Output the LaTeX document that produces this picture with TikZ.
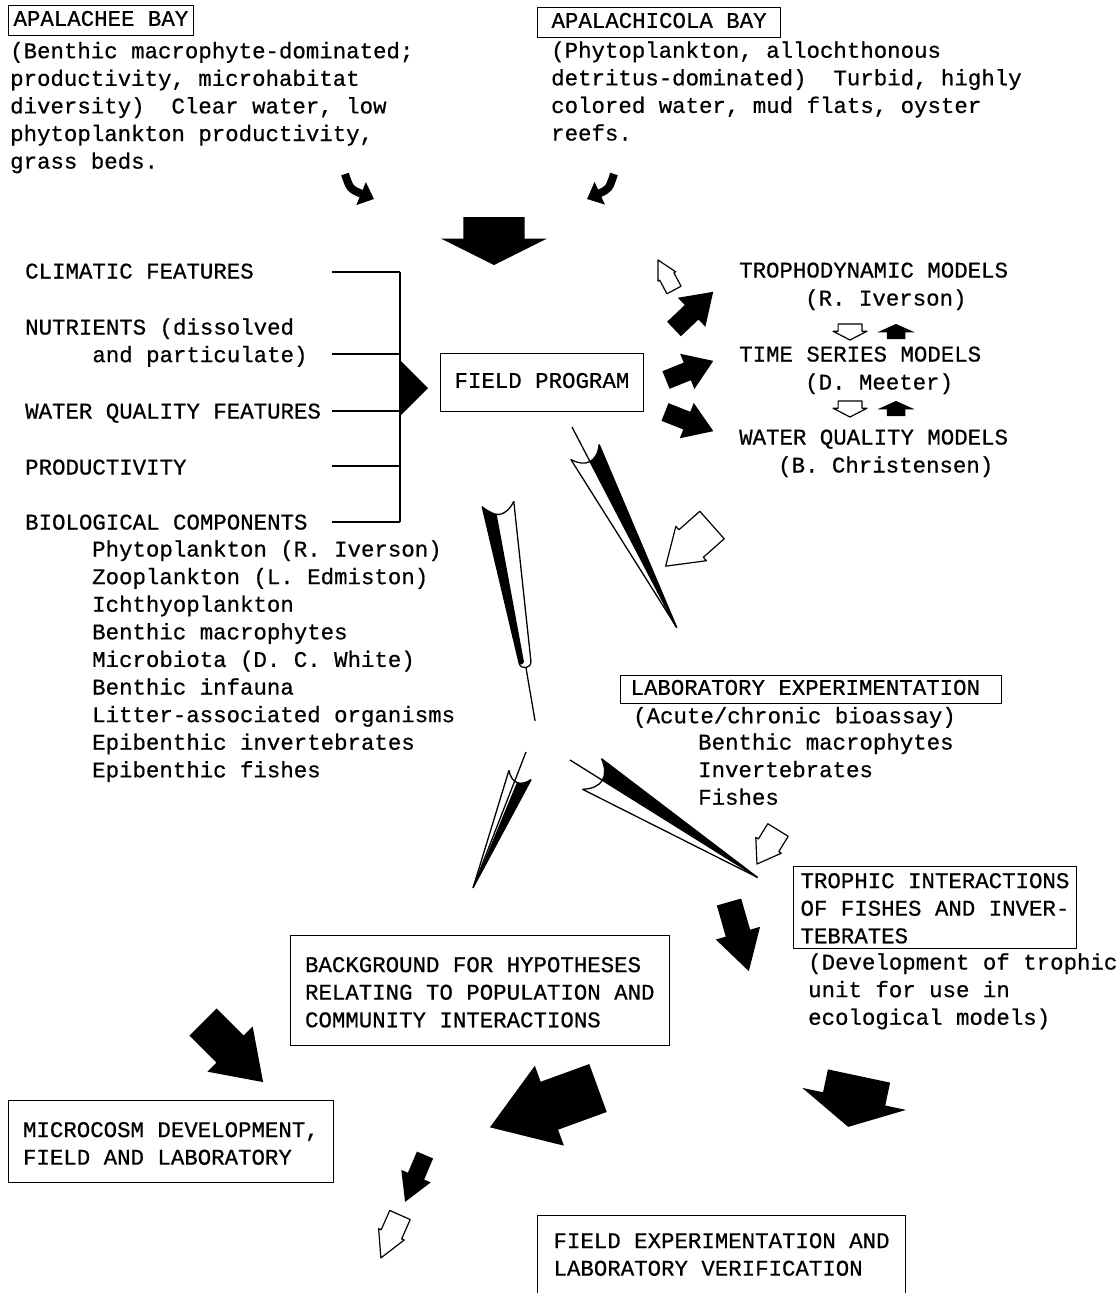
\documentclass[tikz,border=0pt]{standalone}
\usepackage{fontspec}
\setmonofont{Liberation Mono}[FakeBold=0.6]
\usepackage{tikz}
\usetikzlibrary{positioning,arrows.meta}

\newcommand{\tw}{\ttfamily\fontsize{22.4}{27.6}\selectfont\frenchspacing}
% block arrow: style, tail, direction (clockwise from east), length, width, shaft ratio
\newcommand{\fatarrow}[6]{%
	\begin{scope}[shift={(#2)},rotate={-(#3)}]
		\path[#1] (0,-#5*#6/2) -- (0.45*#4,-#5*#6/2) -- (0.45*#4,-#5/2) -- (#4,0)
			-- (0.45*#4,#5/2) -- (0.45*#4,#5*#6/2) -- (0,#5*#6/2) -- cycle;
	\end{scope}}
% quill arrow: tail, direction, length, width
\newcommand{\quill}[4]{%
	\begin{scope}[shift={(#1)},rotate={-(#2)}]
		\fill (0,-#4/2) -- (#3,0) -- (0.34*#4,0) .. controls (0.3*#4,-0.25*#4) .. (0,-#4/2);
		\draw[line width=1.3pt,line join=round] (0,-#4/2) -- (#3,0) -- (0,#4/2);
		\draw[line width=1.3pt] (0,-#4/2) .. controls (0.45*#4,-0.2*#4) and (0.45*#4,0.2*#4) .. (0,#4/2);
	\end{scope}}
% first and last line heights inside boxes
\newcommand{\up}[1]{\rule{0pt}{#1}}
\newcommand{\down}[1]{\rule[-#1]{0pt}{#1}}

\begin{document}
\begin{tikzpicture}[x=1pt,y=-1pt,
	txt/.style={anchor=north west,inner sep=0pt,align=left,font=\tw},
	box/.style={txt,draw,line width=1.1pt,inner ysep=0pt},
	blk/.style={fill=black},
	hollow/.style={draw,fill=white,line width=1.2pt,line join=round},
	rule/.style={line width=1.3pt}]
	\useasboundingbox[fill=white] (0,0) rectangle (1119,1293);

	\node[box,inner xsep=5pt,inner ysep=1pt] (apalachee) at (8,5) {\strut APALACHEE BAY};
	\node[txt,below right=3pt and 2pt of apalachee.south west] (apalacheetxt)
		{\strut(Benthic macrophyte-dominated;\\productivity, microhabitat\\diversity)\ \ Clear water, low\\phytoplankton productivity,\\grass beds.};
	\node[box,inner xsep=14pt,inner ysep=1pt] (apalachicola) at (537,7) {\strut APALACHICOLA BAY};
	\node[txt,below right=0.5pt and 14pt of apalachicola.south west] (apalachicolatxt)
		{\strut(Phytoplankton, allochthonous\\detritus-dominated)\ \ Turbid, highly\\colored water, mud flats, oyster\\reefs.};

	\draw[line width=8pt,-{Triangle[length=14pt,width=24pt]}] (345,174) .. controls (350,189) .. (374,199);
	\draw[line width=8pt,-{Triangle[length=14pt,width=24pt]}] (614,174) .. controls (609,189) .. (587,199);
	\fatarrow{blk}{494,217}{90}{48}{106}{0.58}

	\node[txt] (clim) at (25,259) {\strut CLIMATIC FEATURES};
	\node[txt] (nutr) at (25,315) {\strut NUTRIENTS (dissolved\\\phantom{NUTRI}and particulate)};
	\node[txt] (wq) at (25,399) {\strut WATER QUALITY FEATURES};
	\node[txt] (prod) at (25,455) {\strut PRODUCTIVITY};
	\node[txt] (bio) at (25,510) {\strut BIOLOGICAL COMPONENTS};
	\node[txt] (biolist) at (92,537)
		{\strut Phytoplankton (R. Iverson)\\Zooplankton (L. Edmiston)\\Ichthyoplankton\\Benthic macrophytes\\Microbiota (D. C. White)\\Benthic infauna\\Litter-associated organisms\\Epibenthic invertebrates\\Epibenthic fishes};

	\coordinate (spinetop) at (400,272);
	\coordinate (spinebot) at (400,522);
	\foreach \yy/\nm in {272/clim,354/nutr,411/wq,466/prod,522/bio}{
		\coordinate (tick\nm) at (332,\yy);
		\draw[rule] (tick\nm) -- (tick\nm -| spinetop);
	}
	\draw[rule] (spinetop) -- (spinebot);
	\fill (401,361) -- (428,388) -- (401,415) -- cycle;

	\node[box,inner xsep=14pt,inner ysep=15pt] (field) at (440,353) {\strut FIELD PROGRAM};

	\node[txt] (troph) at (739,258) {\strut TROPHODYNAMIC MODELS};
	\node[txt] (trophwho) at (805,286) {\strut(R. Iverson)};
	\node[txt] (timeser) at (739,342) {\strut TIME SERIES MODELS};
	\node[txt] (timewho) at (805,370) {\strut(D. Meeter)};
	\node[txt] (wqmod) at (739,425) {\strut WATER QUALITY MODELS};
	\node[txt] (wqwho) at (778,453) {\strut(B. Christensen)};

	\fatarrow{blk}{674,329}{-43.5}{54}{40}{0.5}
	\fatarrow{blk}{666,380}{-22}{51}{38}{0.5}
	\fatarrow{blk}{665,412}{21.6}{52}{38}{0.5}
	\fatarrow{hollow}{674,290}{-118}{34}{20}{0.8}
	\fatarrow{hollow}{850,324}{90}{16}{34}{0.7}
	\fatarrow{blk}{896,339}{-90}{15}{37}{0.5}
	\fatarrow{hollow}{850,401}{90}{16}{34}{0.7}
	\fatarrow{blk}{896,416}{-90}{15}{37}{0.5}

	\coordinate (tipA) at (676,627);
	\draw[line width=1.3pt] (572,427) -- (tipA);
	\quill{585,452}{62.4}{198}{32}
	\fatarrow{hollow}{712,525}{138.4}{62}{46}{0.8}

	\begin{scope}[shift={(498,504)},rotate=-80.3]
		\fill (0,16) -- (160,6) .. controls (163,4) .. (160,1) -- (10,3) .. controls (6,9) .. (0,16);
		\draw[line width=1.3pt,line join=round] (0,-16) -- (160,-6) .. controls (168,-6) and (168,6) .. (160,6) -- (0,16);
		\draw[line width=1.3pt] (0,-16) .. controls (14,-6) and (14,6) .. (0,16);
		\draw[line width=1.3pt] (166,0) -- (220,0);
	\end{scope}

	\node[box,inner xsep=10pt] (lab) at (620,675) {\strut LABORATORY EXPERIMENTATION\hspace{11pt}\strut};
	\node[txt,below right=0pt and 13pt of lab.south west] (labtxt) {\strut(Acute/chronic bioassay)};
	\node[txt] (labitems) at (698,730) {\strut Benthic macrophytes\\Invertebrates\\Fishes};

	\coordinate (tipC) at (473,888);
	\draw[line width=1.3pt] (526,752) -- (tipC);
	\quill{520,775}{112.6}{122}{24}
	\coordinate (tipD) at (757,877);
	\draw[line width=1.3pt] (570,760) -- (tipD);
	\quill{592,774}{32}{195}{36}
	\fatarrow{hollow}{778,830}{121.7}{40}{30}{0.8}

	\node[box,inner xsep=7pt] (trophic) at (793,866)
		{\up{21.5pt}TROPHIC INTERACTIONS\\OF FISHES AND INVER-\\TEBRATES\down{5.3pt}};
	\node[txt] (devtxt) at (808,950)
		{\strut(Development of trophic\\unit for use in\\ecological models)};
	\fatarrow{blk}{729,902}{74}{72}{46}{0.55}

	\node[box,inner xsep=14.5pt,inner ysep=10pt] (background) at (290,935)
		{\up{26.5pt}BACKGROUND FOR HYPOTHESES\\RELATING TO POPULATION AND\\COMMUNITY INTERACTIONS\strut};
	\node[box,inner xsep=14.5pt,inner ysep=10pt] (microcosm) at (8,1100)
		{\up{26.5pt}MICROCOSM DEVELOPMENT,\\FIELD AND LABORATORY\strut};
	\node[box,inner xsep=16pt,inner ysep=10pt] (fieldexp) at (537,1215)
		{\up{22.5pt}FIELD EXPERIMENTATION AND\\LABORATORY VERIFICATION\down{20pt}};

	\fatarrow{blk}{203,1022}{45}{85}{64}{0.6}
	\fatarrow{blk}{598,1088}{160}{115}{85}{0.6}
	\fatarrow{blk}{859,1076}{102}{52}{106}{0.6}
	\fatarrow{blk}{425,1155}{113}{51}{32}{0.55}
	\fatarrow{hollow}{400,1215}{114}{47}{28}{0.8}
\end{tikzpicture}
\end{document}
